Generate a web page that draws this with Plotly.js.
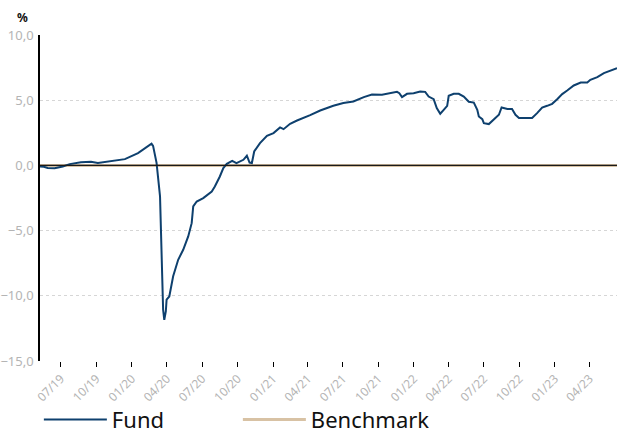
<!DOCTYPE html>
<html>
<head>
<meta charset="utf-8">
<script src="https://cdn.plot.ly/plotly-3.0.1.min.js"></script>
<style>html,body{margin:0;padding:0;background:#fff}#chart{width:617px;height:438px}</style>
</head>
<body>
<div id="chart"></div>
<script>
const dates = [
"2019-05-08","2019-05-18","2019-05-28","2019-06-15","2019-07-06","2019-07-24","2019-08-22","2019-09-17","2019-10-05","2019-10-21",
"2019-11-08","2019-12-14","2020-01-17","2020-02-07","2020-02-21","2020-02-25","2020-03-05","2020-03-14","2020-03-18","2020-03-22",
"2020-03-25","2020-03-29","2020-03-31","2020-04-07","2020-04-17","2020-04-30","2020-05-13","2020-05-26","2020-06-04","2020-06-08",
"2020-06-17","2020-07-04","2020-07-26","2020-08-03","2020-08-16","2020-08-25","2020-09-03","2020-09-17","2020-09-28","2020-10-16",
"2020-10-25","2020-11-01","2020-11-07","2020-11-13","2020-11-28","2020-12-16","2021-01-02","2021-01-19","2021-01-28","2021-02-14",
"2021-03-04","2021-03-21","2021-04-07","2021-05-03","2021-06-06","2021-07-02","2021-07-28","2021-08-24","2021-09-14","2021-10-10",
"2021-10-31","2021-11-18","2021-11-24","2021-12-01","2021-12-14","2021-12-31","2022-01-17","2022-01-30","2022-02-08","2022-02-21",
"2022-03-01","2022-03-10","2022-03-19","2022-03-28","2022-04-01","2022-04-14","2022-04-27","2022-05-10","2022-05-23","2022-06-05",
"2022-06-14","2022-06-18","2022-06-27","2022-07-01","2022-07-14","2022-07-27","2022-08-09","2022-08-16","2022-08-31","2022-09-12",
"2022-09-21","2022-09-30","2022-10-21","2022-11-03","2022-11-16","2022-11-29","2022-12-12","2022-12-25","2023-01-07","2023-01-20",
"2023-02-02","2023-02-19","2023-03-09","2023-03-26","2023-04-03","2023-04-21","2023-05-08","2023-05-25","2023-06-11"
];
const fund = [
-0.08,-0.10,-0.20,-0.22,-0.08,0.10,0.25,0.28,0.18,0.25,
0.30,0.48,0.94,1.35,1.66,1.50,0.20,-2.38,-7.50,-11.07,
-11.84,-11.20,-10.30,-10.05,-8.50,-7.24,-6.47,-5.45,-4.43,-3.15,
-2.77,-2.51,-2.00,-1.62,-0.85,-0.21,0.12,0.35,0.18,0.43,
0.74,0.22,0.18,1.07,1.71,2.27,2.48,2.91,2.78,3.19,
3.44,3.63,3.85,4.21,4.57,4.78,4.90,5.24,5.44,5.41,
5.54,5.64,5.54,5.24,5.49,5.54,5.67,5.64,5.28,5.08,
4.39,3.96,4.26,4.57,5.34,5.49,5.49,5.28,4.88,4.82,
4.26,3.75,3.55,3.24,3.17,3.50,3.88,4.44,4.32,4.32,
3.88,3.63,3.60,3.63,4.01,4.44,4.57,4.72,5.08,5.47,
5.74,6.13,6.36,6.36,6.56,6.77,7.08,7.25,7.46
];
const benchmark = dates.map(() => 0);
const seriesNames = ["Fund", "Benchmark"];
const yTicks = [-15, -10, -5, 0, 5, 10];

const traces = [
  {x: dates, y: benchmark, name: seriesNames[1], type: "scatter", mode: "lines",
   line: {color: "#d8c2a4", width: 3}},
  {x: dates, y: fund, name: seriesNames[0], type: "scatter", mode: "lines",
   line: {color: "#0e406e", width: 2}}
];

const layout = {
  width: 617, height: 438,
  margin: {l: 40, r: 0, t: 35, b: 77, autoexpand: false},
  paper_bgcolor: "#fff", plot_bgcolor: "#fff",
  separators: ",.",
  showlegend: true,
  font: {family: "Noto Sans, sans-serif"},
  xaxis: {
    type: "date",
    range: [dates[0], dates[dates.length - 1]],
    tick0: "2019-07-01", dtick: "M3", tickformat: "%m/%y",
    tickangle: -45, automargin: false,
    ticks: "outside", ticklen: 5, tickcolor: "#000", tickwidth: 1,
    showgrid: false, zeroline: false, showline: false,
    tickfont: {size: 12, color: "#b4b4b4"}
  },
  yaxis: {
    range: [-15, 10], tickvals: yTicks, tickformat: ".1f",
    showgrid: true, gridcolor: "#d6d6d6", griddash: "dot", gridwidth: 1,
    zeroline: false, showline: true, linecolor: "#000", linewidth: 1.5,
    ticks: "", ticklabelstandoff: 2, automargin: false,
    tickfont: {size: 13, color: "#b4b4b4"}
  },
  legend: {
    orientation: "h", xref: "container", yref: "container",
    x: 0.063, xanchor: "left", y: 0.042, yanchor: "middle",
    bgcolor: "rgba(0,0,0,0)",
    traceorder: "reversed",
    itemwidth: 63, entrywidth: 121, entrywidthmode: "pixels",
    font: {size: 22, color: "#111"}
  },
  shapes: [
    {type: "line", xref: "paper", x0: 0, x1: 1, yref: "y", y0: 0, y1: 0,
     line: {color: "#1a1a1a", width: 1.2}, layer: "above"}
  ],
  annotations: [
    {text: "%", xref: "paper", yref: "paper", x: -0.03, y: 1.0, yshift: 18,
     xanchor: "center", yanchor: "middle", showarrow: false,
     font: {size: 12, color: "#111", family: "Noto Sans, sans-serif", weight: "bold"}}
  ]
};

Plotly.newPlot("chart", traces, layout, {displayModeBar: false});
</script>
</body>
</html>
